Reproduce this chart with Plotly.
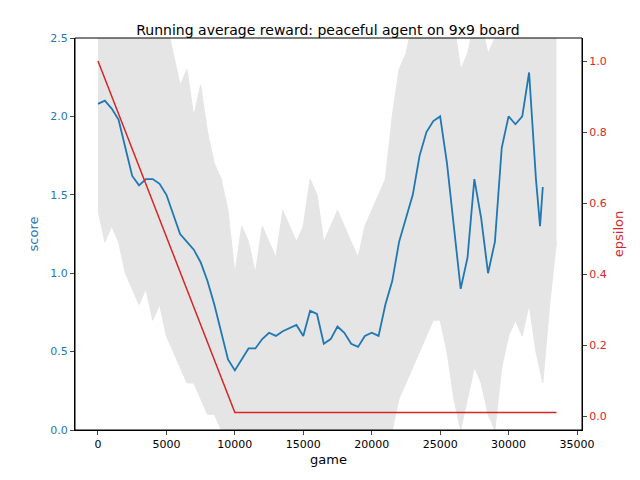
import plotly.graph_objects as go

avg_x = [0,500,1000,1500,2000,2500,3000,3500,4000,4500,5000,5500,6000,6500,7000,7500,8000,8500,9000,9500,10000,10500,11000,11500,12000,12500,13000,13500,14000,14500,15000,15500,16000,16500,17000,17500,18000,18500,19000,19500,20000,20500,21000,21500,22000,22500,23000,23500,24000,24500,25000,25500,26000,26500,27000,27500,28000,28500,29000,29500,30000,30500,31000,31500,32000,32300,32500]
avg_y = [2.08,2.1,2.05,1.98,1.8,1.62,1.56,1.6,1.6,1.57,1.5,1.38,1.25,1.2,1.15,1.07,0.95,0.8,0.62,0.45,0.38,0.45,0.52,0.52,0.58,0.62,0.6,0.63,0.65,0.67,0.6,0.76,0.74,0.55,0.58,0.66,0.62,0.55,0.53,0.6,0.62,0.6,0.8,0.95,1.2,1.35,1.5,1.75,1.9,1.97,2.0,1.7,1.3,0.9,1.1,1.6,1.35,1.0,1.2,1.8,2.0,1.95,2.0,2.28,1.6,1.3,1.55]

gray_x = list(range(0, 33501, 500))
gray_hi = [2.6,2.6,2.6,2.6,2.6,2.6,2.6,2.6,2.6,2.6,2.6,2.4,2.2,2.3,2.0,2.2,1.9,1.7,1.6,1.4,1.0,1.3,1.2,1.0,1.3,1.2,1.1,1.4,1.3,1.2,1.3,1.6,1.5,1.2,1.3,1.4,1.3,1.2,1.1,1.3,1.4,1.5,1.6,2.0,2.3,2.4,2.6,2.6,2.6,2.6,2.6,2.6,2.6,2.3,2.4,2.6,2.6,2.4,2.5,2.6,2.6,2.6,2.6,2.6,2.6,2.6,2.6,2.6]
gray_lo = [1.4,1.2,1.3,1.2,1.0,0.9,0.8,0.9,0.7,0.8,0.6,0.5,0.4,0.3,0.3,0.2,0.1,0.1,0.0,0.0,0.0,0.0,0.0,0.0,0.0,0.0,0.0,0.0,0.0,0.0,0.0,0.0,0.0,0.0,0.0,0.0,0.0,0.0,0.0,0.0,0.0,0.0,0.0,0.0,0.2,0.3,0.4,0.5,0.6,0.7,0.7,0.5,0.2,0.0,0.2,0.4,0.3,0.1,0.0,0.4,0.6,0.7,0.6,0.8,0.5,0.3,0.8,1.2]

eps_x = [0, 10000, 33500]
eps_y = [1.0, 0.01, 0.01]

fig = go.Figure()
fig.add_trace(go.Scatter(x=gray_x, y=gray_lo, mode="lines", line=dict(color="#e5e5e5", width=1), showlegend=False))
fig.add_trace(go.Scatter(x=gray_x, y=gray_hi, mode="lines", line=dict(color="#e5e5e5", width=1),
                         fill="tonexty", fillcolor="#e5e5e5", showlegend=False))
fig.add_trace(go.Scatter(x=avg_x, y=avg_y, mode="lines", line=dict(color="#1f77b4", width=1.8), showlegend=False))
fig.add_trace(go.Scatter(x=eps_x, y=eps_y, mode="lines", line=dict(color="#d62728", width=1.5), yaxis="y2", showlegend=False))

ax = dict(showgrid=False, zeroline=False, showline=True, linecolor="black", ticks="outside", ticklen=4, automargin=False)
fig.update_layout(
    width=640, height=480, plot_bgcolor="white", paper_bgcolor="white",
    margin=dict(l=67, r=66, t=30, b=58),
    font=dict(family="DejaVu Sans", size=11, color="black"),
    title=dict(text="Running average reward: peaceful agent on 9x9 board", x=0.5, xanchor="center", y=0.965, font=dict(size=14)),
    xaxis=dict(**ax, range=[-1680, 35365], tickvals=[0,5000,10000,15000,20000,25000,30000,35000],
               ticktext=["0","5000","10000","15000","20000","25000","30000","35000"],
               title=dict(text="game", standoff=4)),
    yaxis=dict(**ax, range=[0, 2.5], dtick=0.5, tickformat=".1f", tickfont=dict(color="#1f77b4"),
               title=dict(text="score", font=dict(color="#1f77b4"), standoff=8)),
    yaxis2=dict(**ax, overlaying="y", side="right", range=[-0.039, 1.065], dtick=0.2, tickformat=".1f",
                tickfont=dict(color="#d62728"), title=dict(text="epsilon", font=dict(color="#d62728"), standoff=8)),
)
fig.add_shape(type="rect", xref="paper", yref="paper", x0=0, y0=0, x1=1, y1=1, line=dict(color="black", width=1))
fig.write_html("out.html")
